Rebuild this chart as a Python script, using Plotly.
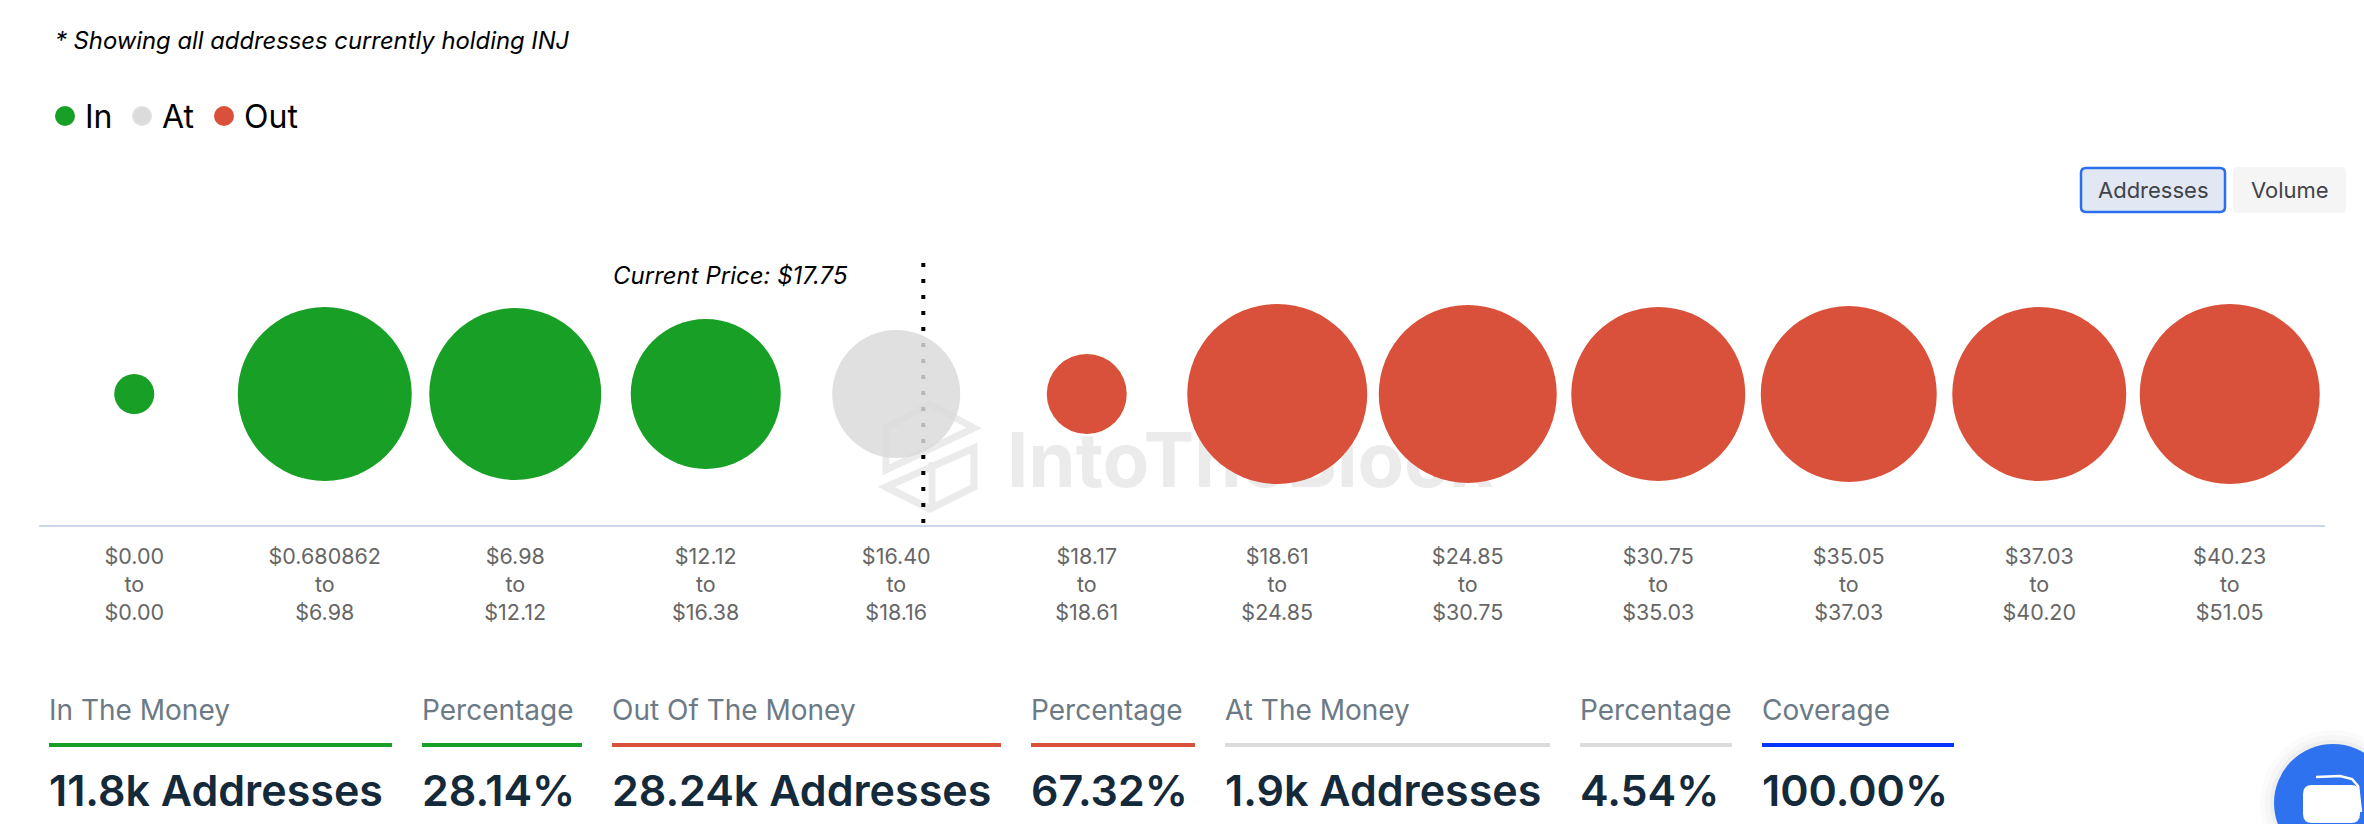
import plotly.graph_objects as go

W, H = 2364, 824
M_L, M_R, M_T, M_B = 39, 39, 100, 299

# ---------- data ----------
range_labels = [
    "$0.00<br>to<br>$0.00", "$0.680862<br>to<br>$6.98", "$6.98<br>to<br>$12.12",
    "$12.12<br>to<br>$16.38", "$16.40<br>to<br>$18.16", "$18.17<br>to<br>$18.61",
    "$18.61<br>to<br>$24.85", "$24.85<br>to<br>$30.75", "$30.75<br>to<br>$35.03",
    "$35.05<br>to<br>$37.03", "$37.03<br>to<br>$40.20", "$40.23<br>to<br>$51.05",
]
in_addresses = [229, 4329, 4230, 3217]
at_addresses = [2343]
out_addresses = [915, 4633, 4531, 4329, 4429, 4329, 4633]
current_price_position = 4.142
stat_titles = ["In The Money", "Percentage", "Out Of The Money", "Percentage",
               "At The Money", "Percentage", "Coverage"]
stat_values = ["11.8k Addresses", "28.14%", "28.24k Addresses", "67.32%",
               "1.9k Addresses", "4.54%", "100.00%"]

GREEN, GREY, RED, BLUE = "#189f25", "#dadada", "#d9513a", "#0534ff"
FONT = "Inter"
SIZEREF = 0.286

PW, PH = W - M_L - M_R, H - M_T - M_B
def X(px): return (px - M_L) / PW
def Y(py): return (H - M_B - py) / PH

def rounded(x0, y0, x1, y1, r):
    return (f"M{X(x0+r)},{Y(y0)} L{X(x1-r)},{Y(y0)} Q{X(x1)},{Y(y0)} {X(x1)},{Y(y0+r)} "
            f"L{X(x1)},{Y(y1-r)} Q{X(x1)},{Y(y1)} {X(x1-r)},{Y(y1)} "
            f"L{X(x0+r)},{Y(y1)} Q{X(x0)},{Y(y1)} {X(x0)},{Y(y1-r)} "
            f"L{X(x0)},{Y(y0+r)} Q{X(x0)},{Y(y0)} {X(x0+r)},{Y(y0)} Z")

def poly(pts, close=True):
    s = "M" + " L".join(f"{X(a)},{Y(b)}" for a, b in pts)
    return s + (" Z" if close else "")

fig = go.Figure()
def bubble(name, cats, vals, color, legend, opacity=1):
    fig.add_trace(go.Scatter(
        x=cats, y=[0] * len(cats), mode="markers", name=name, legend=legend,
        marker=dict(size=vals, sizemode="area", sizeref=SIZEREF, color=color,
                    opacity=opacity, line=dict(width=0)),
        hovertemplate="%{x}<br>%{marker.size}<extra>" + name + "</extra>",
    ))
bubble("In", range_labels[:4], in_addresses, GREEN, "legend")
bubble("At", range_labels[4:5], at_addresses, GREY, "legend2", 0.843)
bubble("Out", range_labels[5:], out_addresses, RED, "legend3")

shapes, ann = [], []
def paper_shape(**k):
    shapes.append(dict(xref="paper", yref="paper", **k))
def text(px, py, s, size, color, anchor="left", **font):
    ann.append(dict(xref="paper", yref="paper", x=X(px), y=Y(py), text=s, showarrow=False,
                    xanchor=anchor, yanchor="middle", borderpad=0,
                    font=dict(family=FONT, size=size, color=color, **font)))

# watermark, below the bubbles
WM = "#ebebeb"
for pts, cl in [
    ([(886, 428), (930, 404), (974, 428), (886, 470)], True),
    ([(886, 487), (974, 448), (974, 487), (930, 509)], True),
    ([(886, 487), (930, 509)], False),
    ([(932, 509), (932, 462)], False),
]:
    paper_shape(type="path", path=poly(pts, cl), line=dict(color=WM, width=7), layer="below")
paper_shape(type="rect", x0=X(1004), x1=X(1490), y0=Y(420), y1=Y(493),
            line=dict(width=0), fillcolor="rgba(0,0,0,0)", layer="below",
            label=dict(text="<b>IntoTheBlock</b>", textposition="middle left", padding=0,
                       font=dict(family=FONT, size=76, color=WM)))

# current price line (on the category axis, under the bubbles)
shapes.append(dict(type="line", xref="x", yref="paper", x0=current_price_position,
                   x1=current_price_position, y0=Y(263), y1=Y(525), layer="below",
                   line=dict(color="#000000", width=4, dash="4px,12px")))
text(612, 275, "Current Price: $17.75", 24, "#000000", style="italic")

# note
text(54, 40, "* Showing all addresses currently holding INJ", 23.8, "#000000", style="italic")

# legend dot enlargement
for cx, c in [(65, GREEN), (142, "#e0e0e0"), (224, RED)]:
    paper_shape(type="circle", x0=X(cx - 10), x1=X(cx + 10), y0=Y(106), y1=Y(126),
                fillcolor=c, line=dict(width=0))

# buttons
paper_shape(type="path", path=rounded(2081, 168, 2225, 212, 5), fillcolor="#e1e7f3",
            line=dict(color="#2a6fed", width=2.5))
paper_shape(type="path", path=rounded(2233, 167, 2346, 213, 5), fillcolor="#f5f5f5",
            line=dict(width=0))
text(2153, 190, "Addresses", 22, "#3f4349", "center")
text(2289.5, 190, "Volume", 22, "#3f4349", "center")

# stat blocks
stat_bars = [(49, 392, GREEN), (422, 582, GREEN), (612, 1001, RED), (1031, 1195, RED),
             (1225, 1550, "#dcdcdc"), (1580, 1732, "#dcdcdc"), (1762, 1954, BLUE)]
for (x0, x1, c), t, v in zip(stat_bars, stat_titles, stat_values):
    text(x0 - 1, 710, t, 28, "#6c7a86")
    paper_shape(type="rect", x0=X(x0), x1=X(x1), y0=Y(743), y1=Y(747), fillcolor=c, line=dict(width=0))
    text(x0 - 1, 790, v, 43, "#14293a", weight=600)

# chat widget
for extra, alpha in [(14, 0.015), (9, 0.02), (4, 0.03)]:
    paper_shape(type="circle", x0=X(2333 - 59 - extra), x1=X(2333 + 59 + extra),
                y0=Y(803 - 59 - extra), y1=Y(803 + 59 + extra),
                fillcolor=f"rgba(0,0,0,{alpha})", line=dict(width=0))
paper_shape(type="circle", x0=X(2274), x1=X(2392), y0=Y(744), y1=Y(862),
            fillcolor="#2e72f0", line=dict(width=0))
paper_shape(type="path", path=rounded(2303, 785, 2360, 823, 9), fillcolor="#ffffff", line=dict(width=0))
paper_shape(type="path", path=poly([(2316, 777), (2340, 776), (2352, 779), (2358, 786), (2361, 812)], False),
            line=dict(color="#ffffff", width=2.5))

def legend_at(px):
    return dict(orientation="h", xref="paper", yref="paper",
                x=X(px), y=Y(116), xanchor="left", yanchor="middle",
                itemsizing="trace", itemclick=False, itemdoubleclick=False,
                font=dict(family=FONT, size=32, color="#000000"), bgcolor="rgba(0,0,0,0)")

fig.update_layout(
    width=W, height=H, margin=dict(l=M_L, r=M_R, t=M_T, b=M_B, pad=0),
    paper_bgcolor="#ffffff", plot_bgcolor="rgba(0,0,0,0)",
    font=dict(family=FONT),
    shapes=shapes, annotations=ann, hovermode="closest",
    showlegend=True,
    legend=legend_at(45), legend2=legend_at(122), legend3=legend_at(204),
    xaxis=dict(type="category", categoryorder="array", categoryarray=range_labels,
               range=[-0.5, 11.5], showgrid=False, zeroline=False, showline=True,
               linecolor="#ccd6eb", linewidth=2, ticks="outside", ticklen=11,
               tickcolor="rgba(0,0,0,0)", tickfont=dict(family=FONT, size=21.5, color="#666666"),
               tickangle=0, fixedrange=True),
    yaxis=dict(range=[-131, 294], visible=False, fixedrange=True),
)

fig.write_html("out.html", config=dict(displayModeBar=False),
               post_script="document.body.style.margin='0';document.documentElement.style.overflow='hidden';")
